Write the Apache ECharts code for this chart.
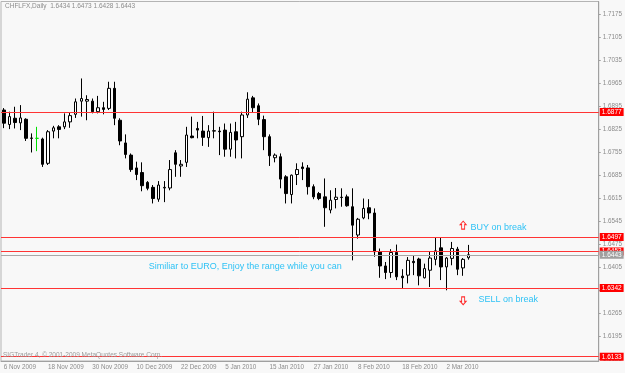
<!DOCTYPE html>
<html>
<head>
<meta charset="utf-8">
<script src="https://cdn.jsdelivr.net/npm/echarts@6/dist/echarts.min.js"></script>
<style>
  body{margin:0;background:#f8f8f8;}
  #chart_example{width:625px;height:373px;}
</style>
</head>
<body>
<div id="chart_example"></div>
<script>
// daily bars
var dates = ['6 Nov 2009','9 Nov 2009','10 Nov 2009','11 Nov 2009','12 Nov 2009','13 Nov 2009','16 Nov 2009','17 Nov 2009','18 Nov 2009','19 Nov 2009',
  '20 Nov 2009','23 Nov 2009','24 Nov 2009','25 Nov 2009','26 Nov 2009','27 Nov 2009','30 Nov 2009','1 Dec 2009','2 Dec 2009','3 Dec 2009',
  '4 Dec 2009','7 Dec 2009','8 Dec 2009','9 Dec 2009','10 Dec 2009','11 Dec 2009','14 Dec 2009','15 Dec 2009','16 Dec 2009','17 Dec 2009',
  '18 Dec 2009','21 Dec 2009','22 Dec 2009','23 Dec 2009','24 Dec 2009','28 Dec 2009','29 Dec 2009','30 Dec 2009','31 Dec 2009','4 Jan 2010',
  '5 Jan 2010','6 Jan 2010','7 Jan 2010','8 Jan 2010','11 Jan 2010','12 Jan 2010','13 Jan 2010','14 Jan 2010','15 Jan 2010','18 Jan 2010',
  '19 Jan 2010','20 Jan 2010','21 Jan 2010','22 Jan 2010','25 Jan 2010','26 Jan 2010','27 Jan 2010','28 Jan 2010','29 Jan 2010','1 Feb 2010',
  '2 Feb 2010','3 Feb 2010','4 Feb 2010','5 Feb 2010','8 Feb 2010','9 Feb 2010','10 Feb 2010','11 Feb 2010','12 Feb 2010','15 Feb 2010',
  '16 Feb 2010','17 Feb 2010','18 Feb 2010','19 Feb 2010','22 Feb 2010','23 Feb 2010','24 Feb 2010','25 Feb 2010','26 Feb 2010','1 Mar 2010',
  '2 Mar 2010','3 Mar 2010','4 Mar 2010','5 Mar 2010','8 Mar 2010'];

var opens = [1.6883,1.6839,1.6858,1.6844,1.6855,1.6798,1.6797,1.6795,1.6721,1.6819,
  1.6832,1.6832,1.6847,1.6870,1.6910,1.6910,1.6910,1.6878,1.6890,1.6888,
  1.6949,1.6852,1.6783,1.6746,1.6707,1.6693,1.6663,1.6648,1.6612,1.6646,
  1.6646,1.6753,1.6713,1.6724,1.6804,1.6827,1.6819,1.6799,1.6820,1.6819,
  1.6822,1.6764,1.6817,1.6802,1.6868,1.6920,1.6896,1.6854,1.6802,1.6738,
  1.6741,1.6680,1.6626,1.6687,1.6710,1.6707,1.6650,1.6629,1.6619,1.6579,
  1.6611,1.6618,1.6619,1.6589,1.6503,1.6555,1.6586,1.6570,1.6452,1.6409,
  1.6389,1.6450,1.6378,1.6381,1.6423,1.6430,1.6373,1.6396,1.6429,1.6464,
  1.6406,1.6432,1.6460,1.6403,1.6434];
var highs = [1.6889,1.6878,1.6893,1.6898,1.6858,1.6812,1.6832,1.6799,1.6822,1.6835,
  1.6837,1.6873,1.6876,1.6918,1.6979,1.6928,1.6918,1.6926,1.6908,1.6969,
  1.6969,1.6858,1.6809,1.6751,1.6726,1.6724,1.6667,1.6655,1.6667,1.6667,
  1.6731,1.6761,1.6731,1.6832,1.6863,1.6847,1.6865,1.6837,1.6878,1.6832,
  1.6842,1.6842,1.6847,1.6878,1.6937,1.6926,1.6903,1.6866,1.6809,1.6751,
  1.6751,1.6685,1.6687,1.6721,1.6724,1.6716,1.6657,1.6634,1.6675,1.6639,
  1.6646,1.6645,1.6626,1.6645,1.6555,1.6614,1.6612,1.6584,1.6462,1.6421,
  1.6460,1.6474,1.6399,1.6436,1.6442,1.6434,1.6416,1.6452,1.6497,1.6494,
  1.6436,1.6482,1.6467,1.6433,1.6473];
var lows = [1.6828,1.6825,1.6827,1.6822,1.6789,1.6754,1.6758,1.6710,1.6716,1.6797,
  1.6797,1.6825,1.6829,1.6859,1.6863,1.6852,1.6873,1.6873,1.6870,1.6883,
  1.6837,1.6776,1.6736,1.6695,1.6670,1.6636,1.6639,1.6599,1.6604,1.6603,
  1.6639,1.6680,1.6680,1.6710,1.6797,1.6797,1.6774,1.6771,1.6797,1.6746,
  1.6741,1.6741,1.6736,1.6736,1.6859,1.6876,1.6837,1.6761,1.6713,1.6724,
  1.6645,1.6599,1.6599,1.6655,1.6670,1.6626,1.6612,1.6609,1.6528,1.6569,
  1.6584,1.6589,1.6589,1.6426,1.6492,1.6551,1.6551,1.6437,1.6373,1.6369,
  1.6373,1.6366,1.6340,1.6356,1.6381,1.6350,1.6371,1.6345,1.6411,1.6366,
  1.6335,1.6411,1.6381,1.6379,1.6428];
var closes = [1.6843,1.6863,1.6845,1.6859,1.6797,1.6797,1.6797,1.6718,1.6817,1.6829,
  1.6824,1.6847,1.6866,1.6908,1.6918,1.6915,1.6878,1.6890,1.6885,1.6949,
  1.6858,1.6789,1.6748,1.6702,1.6687,1.6653,1.6645,1.6614,1.6655,1.6648,
  1.6702,1.6718,1.6718,1.6807,1.6799,1.6822,1.6800,1.6819,1.6819,1.6817,
  1.6764,1.6815,1.6792,1.6868,1.6916,1.6890,1.6855,1.6802,1.6744,1.6746,
  1.6673,1.6629,1.6685,1.6702,1.6705,1.6650,1.6619,1.6614,1.6586,1.6609,
  1.6618,1.6617,1.6592,1.6533,1.6551,1.6584,1.6570,1.6452,1.6409,1.6389,
  1.6450,1.6376,1.6373,1.6426,1.6419,1.6379,1.6401,1.6433,1.6455,1.6406,
  1.6433,1.6462,1.6399,1.6429,1.6443];

var yTicks = [1.6125,1.6195,1.6265,1.6335,1.6405,1.6475,1.6545,1.6615,1.6685,1.6755,1.6825,1.6895,1.6965,1.7035,1.7105,1.7175];
var redLevels = [1.6877, 1.6497, 1.6453, 1.6342, 1.6133];
var bidLevel = 1.6443;
var greenBar = 6;

var candles = [];
for (var i = 0; i < dates.length; i++) {
  var item = { value: [opens[i], closes[i], lows[i], highs[i]] };
  if (i === greenBar) {
    item.itemStyle = { color: '#00e000', color0: '#00e000', borderColor: '#00e000', borderColor0: '#00e000' };
  }
  candles.push(item);
}

var last = dates.length - 1;
var head = 'CHFLFX,Daily  ' + [opens[last], highs[last], lows[last], closes[last]].map(function (v) { return v.toFixed(4); }).join(' ');

var lines = redLevels.map(function (v) {
  return { yAxis: v, lineStyle: { color: '#ff3434' }, label: { backgroundColor: '#ff0000' } };
});
lines.push({ yAxis: bidLevel, lineStyle: { color: '#a8a8a8' }, label: { backgroundColor: '#a0a0a0' } });

var upArrow = 'path://M3,0L6,3.5L4.5,3.5L4.5,8L1.5,8L1.5,3.5L0,3.5Z';
var downArrow = 'path://M3,8L6,4.5L4.5,4.5L4.5,0L1.5,0L1.5,4.5L0,4.5Z';
var noteColor = '#2fc2f5';

function dateTick(index) {
  return index % 8 === 0 && index < dates.length;
}

var option = {
  animation: false,
  backgroundColor: '#f8f8f8',
  textStyle: { fontFamily: 'Liberation Sans' },
  title: [
    { text: head, left: 5, top: 3, padding: 0, textStyle: { fontSize: 6.5, color: '#8c8c8c', fontWeight: 'normal' } },
    { text: 'SIGTrader 4, \u00a9 2001-2009 MetaQuotes Software Corp.', left: 3, top: 352, padding: 0,
      textStyle: { fontSize: 6.5, color: '#9a9a9a', fontWeight: 'normal' } }
  ],
  grid: { left: 1, top: 1.5, width: 598, height: 359.5, show: true, borderColor: '#b4b4b4', borderWidth: 1 },
  xAxis: {
    type: 'category',
    data: dates,
    max: 107,
    boundaryGap: true,
    axisLine: { lineStyle: { color: '#a0a0a0' } },
    axisTick: { alignWithLabel: true, interval: dateTick, length: 3, lineStyle: { color: '#a0a0a0' } },
    axisLabel: { interval: dateTick, align: 'left', fontSize: 6.3, color: '#8c8c8c', margin: 3 },
    splitLine: { show: false }
  },
  yAxis: {
    type: 'value',
    position: 'right',
    scale: true,
    min: 1.6120,
    max: 1.7213,
    axisLine: { show: true, lineStyle: { color: '#a0a0a0' } },
    axisTick: { show: true, length: 2, customValues: yTicks, lineStyle: { color: '#a0a0a0' } },
    axisLabel: { customValues: yTicks, margin: 4, fontSize: 6.3, color: '#8c8c8c',
      formatter: function (v) { return v.toFixed(4); } },
    splitLine: { show: false }
  },
  series: [{
    type: 'candlestick',
    data: candles,
    barWidth: 3,
    itemStyle: { color: '#ffffff', color0: '#000000', borderColor: '#000000', borderColor0: '#000000', borderWidth: 1 },
    markLine: {
      silent: true,
      symbol: 'none',
      precision: 4,
      lineStyle: { type: 'solid', width: 1 },
      label: { position: 'end', distance: 1, color: '#ffffff', fontSize: 6.5, padding: [1, 2, 0, 2],
        formatter: function (p) { return Number(p.value).toFixed(4); } },
      data: lines
    },
    markPoint: {
      silent: true,
      data: [
        { coord: [dates[26], 1.6407], symbol: 'circle', symbolSize: 0,
          label: { show: true, position: 'right', distance: 1, color: noteColor, fontSize: 9,
            formatter: 'Similiar to EURO, Enjoy the range while you can' } },
        { coord: [dates[83], 1.6533], symbol: upArrow, symbolSize: [6, 8],
          itemStyle: { color: '#f8f8f8', borderColor: '#ff2a2a', borderWidth: 1 },
          label: { show: true, position: 'right', distance: 4, offset: [0, 2], color: noteColor, fontSize: 9, formatter: 'BUY on break' } },
        { coord: [dates[83], 1.6303], symbol: downArrow, symbolSize: [6, 8],
          itemStyle: { color: '#f8f8f8', borderColor: '#ff2a2a', borderWidth: 1 },
          label: { show: true, position: 'right', distance: 12, offset: [0, -1], color: noteColor, fontSize: 9, formatter: 'SELL on break' } }
      ]
    }
  }]
};

var myChart = echarts.init(document.getElementById('chart_example'));
myChart.setOption(option);
</script>
</body>
</html>
